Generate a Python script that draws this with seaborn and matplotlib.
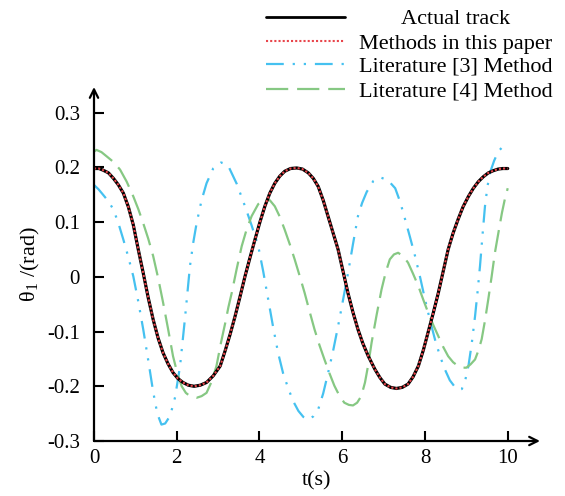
import matplotlib
matplotlib.use('Agg')
import matplotlib.pyplot as plt
import seaborn as sns
from matplotlib.lines import Line2D

# values
t_actual = [0.0, 0.12, 0.22, 0.35, 0.47, 0.59, 0.71, 0.83, 0.95, 1.07, 1.19, 1.31, 1.43, 1.55,
            1.67, 1.79, 1.91, 2.03, 2.15, 2.28, 2.42, 2.57, 2.72, 2.88, 3.05, 3.17, 3.29, 3.41,
            3.53, 3.65, 3.77, 3.89, 4.01, 4.13, 4.25, 4.37, 4.49, 4.61, 4.75, 4.90, 5.04, 5.18,
            5.30, 5.42, 5.54, 5.66, 5.78, 5.90, 6.02, 6.14, 6.26, 6.38, 6.50, 6.63, 6.79, 6.91,
            7.03, 7.17, 7.31, 7.45, 7.59, 7.71, 7.84, 7.96, 8.08, 8.20, 8.32, 8.44, 8.56, 8.68,
            8.80, 8.92, 9.05, 9.17, 9.29, 9.41, 9.53, 9.65, 9.77, 9.88, 10.0]
v_actual = [0.198, 0.198, 0.195, 0.19, 0.18, 0.168, 0.153, 0.128, 0.095, 0.05, 0.007, -0.038,
            -0.078, -0.112, -0.139, -0.159, -0.175, -0.186, -0.193, -0.198, -0.200, -0.198,
            -0.193, -0.181, -0.163, -0.135, -0.105, -0.072, -0.036, 0.001, 0.035, 0.068, 0.100,
            0.129, 0.153, 0.171, 0.184, 0.193, 0.198, 0.199, 0.197, 0.19, 0.18, 0.165, 0.14,
            0.11, 0.08, 0.05, 0.01, -0.03, -0.065, -0.096, -0.122, -0.145, -0.169, -0.184,
            -0.196, -0.202, -0.204, -0.202, -0.196, -0.183, -0.163, -0.134, -0.10, -0.066,
            -0.03, 0.01, 0.05, 0.08, 0.105, 0.128, 0.147, 0.162, 0.174, 0.183, 0.19, 0.194,
            0.197, 0.198, 0.198]

t_lit3 = [0.0, 0.11, 0.22, 0.35, 0.47, 0.59, 0.71, 0.83, 0.95, 1.07, 1.19, 1.31, 1.43, 1.53,
          1.63, 1.72, 1.84, 1.96, 2.08, 2.20, 2.32, 2.40, 2.48, 2.60, 2.72, 2.88, 3.07, 3.16,
          3.25, 3.45, 3.65, 3.81, 3.97, 4.09, 4.21, 4.33, 4.45, 4.57, 4.70, 4.82, 4.94, 5.06,
          5.18, 5.30, 5.42, 5.54, 5.66, 5.78, 5.90, 6.02, 6.14, 6.26, 6.38, 6.48, 6.59, 6.75,
          6.91, 7.10, 7.28, 7.40, 7.52, 7.64, 7.76, 7.88, 8.00, 8.12, 8.24, 8.36, 8.48, 8.60,
          8.73, 8.81, 8.89, 8.97, 9.05, 9.13, 9.21, 9.27, 9.33, 9.39, 9.45, 9.51, 9.57, 9.67,
          9.77, 9.88, 10.0]
v_lit3 = [0.168, 0.16, 0.15, 0.138, 0.123, 0.098, 0.068, 0.036, 0.001, -0.045, -0.096, -0.152,
          -0.21, -0.25, -0.27, -0.268, -0.254, -0.22, -0.163, -0.075, 0.02, 0.063, 0.098, 0.14,
          0.171, 0.198, 0.209, 0.207, 0.202, 0.17, 0.129, 0.094, 0.056, 0.01, -0.041, -0.092,
          -0.139, -0.176, -0.205, -0.228, -0.245, -0.256, -0.261, -0.255, -0.242, -0.213,
          -0.175, -0.135, -0.09, -0.042, 0.007, 0.06, 0.111, 0.135, 0.155, 0.175, 0.182, 0.177,
          0.162, 0.137, 0.105, 0.072, 0.038, 0.0, -0.041, -0.079, -0.114, -0.144, -0.169,
          -0.189, -0.202, -0.206, -0.205, -0.19, -0.163, -0.122, -0.072, -0.028, 0.02, 0.076,
          0.129, 0.165, 0.19, 0.212, 0.229, 0.238, 0.244]

t_lit4 = [0.0, 0.06, 0.18, 0.31, 0.47, 0.63, 0.79, 0.95, 1.07, 1.19, 1.31, 1.43, 1.55, 1.67,
          1.79, 1.91, 2.02, 2.12, 2.22, 2.32, 2.48, 2.60, 2.72, 2.84, 2.96, 3.07, 3.17, 3.25,
          3.33, 3.45, 3.57, 3.69, 3.81, 3.97, 4.13, 4.25, 4.37, 4.49, 4.61, 4.73, 4.85, 4.97,
          5.09, 5.21, 5.33, 5.45, 5.57, 5.69, 5.81, 5.93, 6.05, 6.16, 6.26, 6.36, 6.46, 6.55,
          6.63, 6.71, 6.83, 6.95, 7.05, 7.15, 7.25, 7.35, 7.47, 7.59, 7.71, 7.84, 7.96, 8.08,
          8.20, 8.32, 8.44, 8.56, 8.68, 8.80, 8.90, 9.00, 9.10, 9.21, 9.29, 9.37, 9.45, 9.53,
          9.61, 9.69, 9.78, 9.86, 9.93, 10.0]
v_lit4 = [0.229, 0.232, 0.228, 0.22, 0.21, 0.196, 0.174, 0.147, 0.124, 0.098, 0.07, 0.038,
          -0.002, -0.047, -0.095, -0.145, -0.178, -0.2, -0.212, -0.218, -0.221, -0.218, -0.212,
          -0.192, -0.163, -0.12, -0.085, -0.055, -0.029, 0.015, 0.056, 0.087, 0.111, 0.133,
          0.142, 0.14, 0.129, 0.11, 0.086, 0.06, 0.032, 0.002, -0.029, -0.063, -0.096, -0.125,
          -0.151, -0.176, -0.199, -0.217, -0.23, -0.234, -0.235, -0.23, -0.218, -0.193, -0.16,
          -0.12, -0.07, -0.023, 0.008, 0.032, 0.041, 0.044, 0.038, 0.026, 0.006, -0.017,
          -0.042, -0.066, -0.088, -0.108, -0.128, -0.145, -0.156, -0.163, -0.166, -0.166,
          -0.16, -0.151, -0.135, -0.114, -0.08, -0.041, 0.0, 0.044, 0.083, 0.117, 0.142, 0.162]

labels = ['Actual track', 'Methods in this paper', 'Literature [3] Method', 'Literature [4] Method']
x_ticks = [0, 2, 4, 6, 8, 10]
y_ticks = [-0.3, -0.2, -0.1, 0, 0.1, 0.2, 0.3]
y_tick_labels = ['-0.3', '-0.2', '-0.1', '0', '0.1', '0.2', '0.3']

sns.set_theme(style='white')
plt.rcParams['font.family'] = ['Liberation Serif', 'DejaVu Serif']
plt.rcParams['mathtext.fontset'] = 'stix'

fig = plt.figure(figsize=(5.65, 4.96), dpi=100)
ax = fig.add_axes([94 / 565, 55 / 496, 446 / 565, 354 / 496])

blue = '#45c1f0'
green = '#86c883'
red = '#e8454b'
blue_ls = (0, (8, 4, 1, 4, 1, 4))
green_ls = (0, (10, 4))
red_ls = (0, (1, 1))

sns.lineplot(x=t_lit3, y=v_lit3, ax=ax, color=blue, lw=1.6, linestyle=blue_ls)
sns.lineplot(x=t_lit4, y=v_lit4, ax=ax, color=green, lw=1.6, linestyle=green_ls)
sns.lineplot(x=t_actual, y=v_actual, ax=ax, color='black', lw=2.3)
sns.lineplot(x=t_actual, y=v_actual, ax=ax, color=red, lw=1.5, linestyle=red_ls)

ax.set_xlim(0, 10.78)
ax.set_ylim(-0.3, 0.347)
for s in ax.spines.values():
    s.set_visible(False)

# axes drawn as arrows
arrow = dict(arrowstyle='->,head_length=0.5,head_width=0.25', lw=1.6, color='black',
             shrinkA=0, shrinkB=0)
ax.annotate('', xy=(0, 0.347), xytext=(0, -0.3), xycoords='data', arrowprops=arrow,
            annotation_clip=False)
ax.annotate('', xy=(10.78, -0.3), xytext=(0, -0.3), xycoords='data', arrowprops=arrow,
            annotation_clip=False)

ax.set_xticks(x_ticks)
ax.set_xticklabels([str(v) for v in x_ticks])
ax.set_yticks(y_ticks)
ax.set_yticklabels(y_tick_labels)
ax.tick_params(axis='both', direction='in', length=7, width=1.5, color='black',
               labelsize=15, labelcolor='black')
ax.tick_params(axis='x', pad=6, bottom=True)
ax.tick_params(axis='y', pad=10, left=True)

ax.set_xlabel('t(s)', fontsize=16, color='black', labelpad=2)
ax.set_ylabel('θ$_\\mathregular{1}$ /(rad)', fontsize=16, color='black', labelpad=4)

# legend drawn by hand so the text can be centred like the original
rows = [17, 41, 64, 89]
styles = [dict(color='black', lw=2.0),
          dict(color=red, lw=1.5, linestyle=red_ls),
          dict(color=blue, lw=1.6, linestyle=blue_ls),
          dict(color=green, lw=1.6, linestyle=green_ls)]
for lab, yy, st in zip(labels, rows, styles):
    yf = 1 - yy / 496
    fig.add_artist(Line2D([266 / 565, 345 / 565], [yf, yf], transform=fig.transFigure, **st))
    fig.text(456 / 565, 1 - (yy + 3) / 496, lab, ha='center', va='center', fontsize=16,
             color='black')

fig.savefig('out.png', dpi=100)
